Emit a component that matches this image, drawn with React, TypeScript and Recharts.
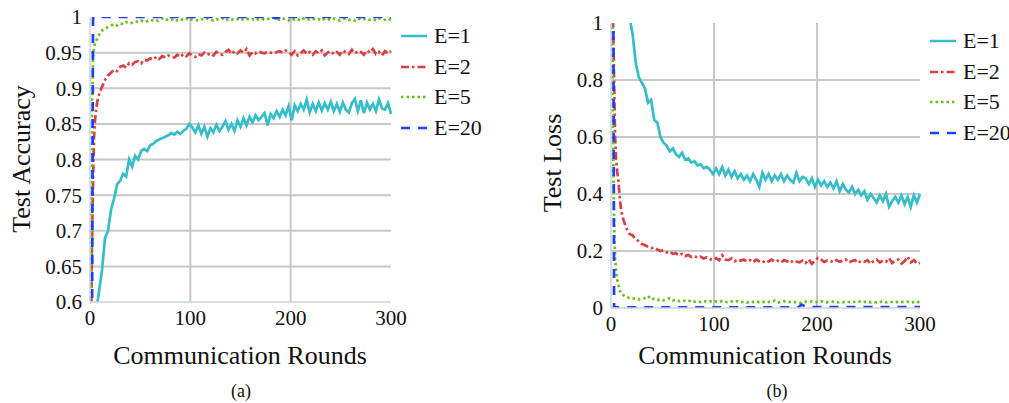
import { LineChart, Line, XAxis, YAxis, CartesianGrid, Legend } from 'recharts'

// communication rounds (dense at the start, every 3 rounds after)
const rounds = [
  1, 2, 3, 4, 5, 6, 7, 8, 9, 10,
  12, 15, 18, 21, 24, 27, 30, 33, 36, 39,
  42, 45, 48, 51, 54, 57, 60, 63, 66, 69,
  72, 75, 78, 81, 84, 87, 90, 93, 96, 99,
  102, 105, 108, 111, 114, 117, 120, 123, 126, 129,
  132, 135, 138, 141, 144, 147, 150, 153, 156, 159,
  162, 165, 168, 171, 174, 177, 180, 183, 186, 189,
  192, 195, 198, 201, 204, 207, 210, 213, 216, 219,
  222, 225, 228, 231, 234, 237, 240, 243, 246, 249,
  252, 255, 258, 261, 264, 267, 270, 273, 276, 279,
  282, 285, 288, 291, 294, 297, 300,
]

const accE1 = [
  0.40, 0.44, 0.48, 0.51, 0.54, 0.565, 0.598, 0.605, 0.615, 0.625,
  0.645, 0.69, 0.70, 0.73, 0.745, 0.765, 0.77, 0.78, 0.776, 0.80,
  0.79, 0.805, 0.80, 0.812, 0.815, 0.812, 0.82, 0.822, 0.826, 0.828,
  0.83, 0.832, 0.834, 0.837, 0.835, 0.839, 0.836, 0.84, 0.843, 0.85,
  0.845, 0.838, 0.848, 0.836, 0.846, 0.832, 0.844, 0.838, 0.849, 0.84,
  0.846, 0.854, 0.842, 0.85, 0.84, 0.855, 0.846, 0.858, 0.848, 0.86,
  0.852, 0.862, 0.855, 0.86, 0.865, 0.848, 0.864, 0.858, 0.868, 0.86,
  0.87, 0.862, 0.875, 0.855, 0.876, 0.868, 0.878, 0.87, 0.884, 0.866,
  0.878, 0.868, 0.88, 0.869, 0.879, 0.87, 0.881, 0.868, 0.878, 0.867,
  0.88, 0.87, 0.866, 0.879, 0.885, 0.868, 0.883, 0.865, 0.88, 0.87,
  0.878, 0.868, 0.884, 0.872, 0.87, 0.879, 0.864,
]

const accE2 = [
  0.55, 0.68, 0.77, 0.83, 0.855, 0.868, 0.879, 0.886, 0.891, 0.895,
  0.902, 0.912, 0.918, 0.922, 0.926, 0.924, 0.93, 0.932, 0.929, 0.935,
  0.933, 0.937, 0.938, 0.935, 0.94, 0.939, 0.942, 0.94, 0.944, 0.941,
  0.945, 0.943, 0.946, 0.944, 0.943, 0.947, 0.944, 0.948, 0.945, 0.949,
  0.946, 0.944, 0.948, 0.946, 0.95, 0.947, 0.949, 0.946, 0.951, 0.948,
  0.947, 0.951, 0.954, 0.948, 0.952, 0.949, 0.953, 0.95, 0.955, 0.946,
  0.951, 0.949, 0.952, 0.95, 0.949, 0.951, 0.95, 0.949, 0.951, 0.952,
  0.95, 0.953, 0.951, 0.947, 0.952, 0.946, 0.949, 0.953, 0.948, 0.951,
  0.947, 0.952, 0.949, 0.953, 0.946, 0.95, 0.952, 0.948, 0.951, 0.947,
  0.953, 0.95, 0.948, 0.954, 0.949, 0.952, 0.951, 0.947, 0.953, 0.95,
  0.955, 0.948, 0.951, 0.946, 0.952, 0.949, 0.952,
]

const accE5 = [
  0.62, 0.86, 0.94, 0.958, 0.963, 0.966, 0.969, 0.972, 0.975, 0.978,
  0.981, 0.984, 0.986, 0.988, 0.99, 0.988, 0.991, 0.99, 0.993, 0.991,
  0.992, 0.994, 0.993, 0.995, 0.993, 0.994, 0.996, 0.995, 0.994, 0.996,
  0.998, 0.995, 0.997, 0.996, 0.998, 0.995, 0.997, 0.996, 0.998, 0.995,
  0.997, 0.996, 0.995, 0.997, 0.996, 0.998, 0.996, 0.995, 0.997, 0.996,
  0.998, 0.995, 0.997, 0.996, 0.998, 0.997, 0.995, 0.997, 0.998, 0.996,
  0.997, 0.995, 0.997, 0.998, 0.996, 0.997, 0.998, 0.999, 0.997, 0.996,
  0.998, 0.997, 0.995, 0.998, 0.996, 0.997, 0.995, 0.998, 0.996, 0.997,
  0.998, 0.996, 0.997, 0.995, 0.998, 0.997, 0.996, 0.998, 0.997, 0.995,
  0.997, 0.998, 0.996, 0.997, 0.995, 0.998, 0.996, 0.997, 0.998, 0.996,
  0.997, 0.995, 0.998, 0.997, 0.996, 0.998, 0.996,
]

const lossE1 = [
  2.2, 2.0, 1.85, 1.7, 1.6, 1.5, 1.42, 1.36, 1.3, 1.25,
  1.18, 1.1, 1.02, 0.96, 0.86, 0.81, 0.79, 0.77, 0.72, 0.73,
  0.66, 0.65, 0.6, 0.58, 0.57, 0.55, 0.56, 0.54, 0.53, 0.545,
  0.52, 0.525, 0.51, 0.515, 0.5, 0.505, 0.49, 0.495, 0.485, 0.47,
  0.49, 0.47, 0.495, 0.465, 0.485, 0.46, 0.48, 0.455, 0.47, 0.45,
  0.465, 0.445, 0.47, 0.45, 0.425, 0.475, 0.45, 0.47, 0.445, 0.465,
  0.45, 0.47, 0.445, 0.465, 0.45, 0.44, 0.475, 0.445, 0.46, 0.455,
  0.435, 0.455, 0.425, 0.45, 0.43, 0.445, 0.425, 0.44, 0.42, 0.445,
  0.41, 0.435, 0.415, 0.405, 0.425, 0.4, 0.415, 0.395, 0.41, 0.38,
  0.4, 0.385, 0.37, 0.395, 0.375, 0.4, 0.355, 0.375, 0.39, 0.37,
  0.395, 0.365, 0.39, 0.355, 0.395, 0.37, 0.4,
]

const lossE2 = [
  1.3, 1.0, 0.8, 0.6, 0.52, 0.48, 0.45, 0.41, 0.37, 0.34,
  0.31, 0.28, 0.26, 0.255, 0.24, 0.235, 0.225, 0.22, 0.215, 0.21,
  0.212, 0.205, 0.2, 0.203, 0.195, 0.198, 0.19, 0.192, 0.185, 0.19,
  0.182, 0.186, 0.179, 0.183, 0.176, 0.18, 0.174, 0.178, 0.172, 0.168,
  0.175, 0.167, 0.185, 0.17, 0.168, 0.174, 0.164, 0.171, 0.166, 0.17,
  0.163, 0.168, 0.16, 0.17, 0.164, 0.159, 0.168, 0.163, 0.17, 0.162,
  0.166, 0.16, 0.168, 0.164, 0.158, 0.167, 0.163, 0.16, 0.166, 0.158,
  0.17, 0.155, 0.166, 0.176, 0.17, 0.162, 0.167, 0.165, 0.16, 0.168,
  0.162, 0.166, 0.17, 0.16, 0.165, 0.168, 0.158, 0.166, 0.162, 0.168,
  0.155, 0.165, 0.17, 0.16, 0.166, 0.162, 0.175, 0.158, 0.166, 0.17,
  0.156, 0.164, 0.18, 0.16, 0.168, 0.155, 0.158,
]

const lossE5 = [
  1.2, 0.6, 0.3, 0.18, 0.13, 0.1, 0.085, 0.07, 0.058, 0.05,
  0.045, 0.038, 0.035, 0.033, 0.034, 0.03, 0.032, 0.035, 0.042, 0.03,
  0.033, 0.028, 0.031, 0.027, 0.03, 0.034, 0.027, 0.029, 0.024, 0.027,
  0.025, 0.023, 0.027, 0.022, 0.024, 0.021, 0.025, 0.022, 0.024, 0.02,
  0.023, 0.021, 0.025, 0.022, 0.02, 0.023, 0.021, 0.024, 0.02, 0.022,
  0.019, 0.023, 0.021, 0.024, 0.02, 0.022, 0.019, 0.021, 0.023, 0.026,
  0.019, 0.022, 0.024, 0.02, 0.021, 0.023, 0.019, 0.017, 0.02, 0.022,
  0.021, 0.023, 0.02, 0.022, 0.024, 0.021, 0.02, 0.023, 0.022, 0.019,
  0.021, 0.02, 0.023, 0.021, 0.019, 0.022, 0.024, 0.02, 0.021, 0.023,
  0.02, 0.022, 0.019, 0.021, 0.024, 0.02, 0.022, 0.021, 0.019, 0.023,
  0.021, 0.02, 0.022, 0.019, 0.021, 0.024, 0.016,
]

// E=20 converges almost at once, so it only needs a few points
const roundsE20 = [1, 2, 3, 4, 60, 120, 180, 182, 185, 190, 240, 300]
const accE20 = [0.2, 0.55, 0.998, 1, 1, 1, 1, 1, 0.998, 1, 1, 1]
const lossE20 = [3, 1.5, 0.005, 0.002, 0.002, 0.002, 0.002, 0.002, 0.012, 0.003, 0.003, 0.003]

const xTicks = [0, 100, 200, 300]
const accTicks = [0.6, 0.65, 0.7, 0.75, 0.8, 0.85, 0.9, 0.95, 1]
const lossTicks = [0, 0.2, 0.4, 0.6, 0.8, 1]

const series = [
  { key: 'e1', name: 'E=1', color: '#35bdc9', dash: undefined },
  { key: 'e2', name: 'E=2', color: '#d8413f', dash: '8 3 2.5 3' },
  { key: 'e5', name: 'E=5', color: '#6cbe1e', dash: '2.5 3' },
  { key: 'e20', name: 'E=20', color: '#1f40f5', dash: '9 8' },
]

const accRows = rounds.map((r, i) => ({ r, e1: accE1[i], e2: accE2[i], e5: accE5[i] }))
const lossRows = rounds.map((r, i) => ({ r, e1: lossE1[i], e2: lossE2[i], e5: lossE5[i] }))
const accRowsE20 = roundsE20.map((r, i) => ({ r, e20: accE20[i] }))
const lossRowsE20 = roundsE20.map((r, i) => ({ r, e20: lossE20[i] }))

const FONT = '"Liberation Serif", "Times New Roman", serif'
const tick = { fontSize: 21, fill: '#111', fontFamily: FONT }
const axisLine = { stroke: '#c9d3e3', strokeWidth: 1.5 }

function LegendBox() {
  return (
    <div style={{ fontFamily: FONT, fontSize: 22, color: '#111' }}>
      {series.map(s => (
        <div key={s.key} style={{ display: 'flex', alignItems: 'center', height: 30.5 }}>
          <svg width={30} height={10} style={{ marginRight: 4 }}>
            <line x1={1} y1={5} x2={27} y2={5} stroke={s.color} strokeWidth={2.5} strokeDasharray={s.dash} />
          </svg>
          <span>{s.name}</span>
        </div>
      ))}
    </div>
  )
}

function Panel({
  rows, rowsE20, ticks, domain, gridY, left, top, width, marginLeft, marginRight, legendLeft, legendTop,
}: {
  rows: any[]
  rowsE20: any[]
  ticks: number[]
  domain: [number, number]
  gridY: number[]
  left: number
  top: number
  width: number
  marginLeft: number
  marginRight: number
  legendLeft: number
  legendTop: number
}) {
  return (
    <div style={{ position: 'absolute', left, top: 0 }}>
      <LineChart
        width={width}
        height={403}
        data={rows}
        margin={{ top, right: marginRight, left: marginLeft, bottom: 403 - 302 - top + 17 - 30 }}
      >
        <CartesianGrid
          stroke="#c8c8c8"
          strokeWidth={2}
          horizontalValues={gridY}
          verticalValues={[100, 200]}
        />
        <XAxis
          dataKey="r"
          type="number"
          domain={[0, 300]}
          ticks={xTicks}
          tick={tick}
          tickLine={false}
          axisLine={axisLine}
          height={30}
        />
        <YAxis
          type="number"
          domain={domain}
          ticks={ticks}
          allowDataOverflow
          tick={tick}
          tickLine={false}
          axisLine={axisLine}
          width={50}
        />
        <Legend
          layout="vertical"
          align="center"
          verticalAlign="middle"
          wrapperStyle={{ left: legendLeft, top: legendTop, width: 110 }}
          content={() => <LegendBox />}
        />
        {series.slice(0, 3).map(s => (
          <Line
            key={s.key}
            type="linear"
            dataKey={s.key}
            name={s.name}
            stroke={s.color}
            strokeWidth={2.7}
            strokeDasharray={s.dash}
            dot={false}
            isAnimationActive={false}
          />
        ))}
        <Line
          type="linear"
          data={rowsE20}
          dataKey="e20"
          name="E=20"
          stroke={series[3].color}
          strokeWidth={2.7}
          strokeDasharray={series[3].dash}
          dot={false}
          isAnimationActive={false}
        />
      </LineChart>
    </div>
  )
}

const titleStyle = { position: 'absolute' as const, fontFamily: FONT, color: '#111', whiteSpace: 'nowrap' as const }

export default function App() {
  return (
    <div style={{ position: 'absolute', left: 0, top: 0, width: 1009, height: 403, background: '#fff' }}>
      <Panel
        rows={accRows}
        rowsE20={accRowsE20}
        ticks={accTicks}
        domain={[0.6, 1]}
        gridY={[0.65, 0.7, 0.75, 0.8, 0.85, 0.9, 0.95]}
        left={0}
        top={17}
        width={520}
        marginLeft={40}
        marginRight={129}
        legendLeft={400}
        legendTop={21}
      />
      <Panel
        rows={lossRows}
        rowsE20={lossRowsE20}
        ticks={lossTicks}
        domain={[0, 1]}
        gridY={[0.2, 0.4, 0.6, 0.8]}
        left={520}
        top={23}
        width={489}
        marginLeft={41}
        marginRight={89}
        legendLeft={409}
        legendTop={26}
      />
      <div style={{ ...titleStyle, left: 22, top: 159, fontSize: 26, transform: 'translate(-50%, -50%) rotate(-90deg)' }}>
        Test Accuracy
      </div>
      <div style={{ ...titleStyle, left: 553, top: 163, fontSize: 26, transform: 'translate(-50%, -50%) rotate(-90deg)' }}>
        Test Loss
      </div>
      <div style={{ ...titleStyle, left: 240, top: 356, fontSize: 26, transform: 'translate(-50%, -50%)' }}>
        Communication Rounds
      </div>
      <div style={{ ...titleStyle, left: 765, top: 356, fontSize: 26, transform: 'translate(-50%, -50%)' }}>
        Communication Rounds
      </div>
      <div style={{ ...titleStyle, left: 241, top: 391, fontSize: 18, transform: 'translate(-50%, -50%)' }}>
        (a)
      </div>
      <div style={{ ...titleStyle, left: 777, top: 391, fontSize: 18, transform: 'translate(-50%, -50%)' }}>
        (b)
      </div>
    </div>
  )
}
